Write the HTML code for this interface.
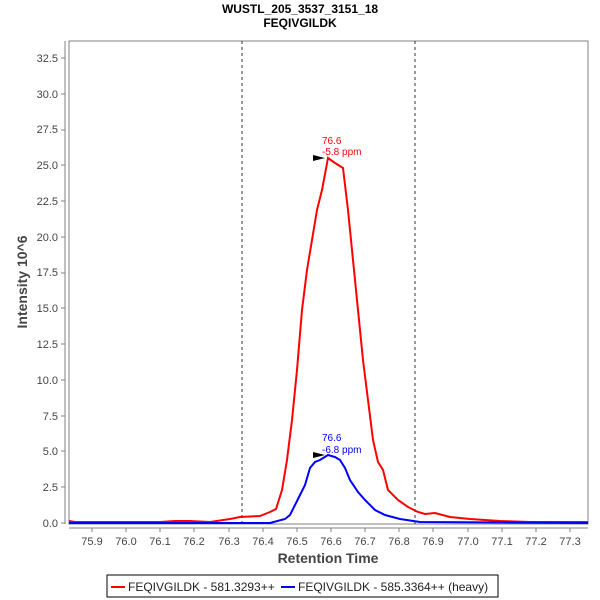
<!DOCTYPE html>
<html><head><style>body{margin:0;background:#fff}svg{display:block}text{font-family:"Liberation Sans",sans-serif}</style></head><body>
<svg width="600" height="600" xmlns="http://www.w3.org/2000/svg">
<text x="300" y="13" font-size="12" font-weight="bold" text-anchor="middle">WUSTL_205_3537_3151_18</text>
<text x="300" y="27" font-size="12" font-weight="bold" text-anchor="middle">FEQIVGILDK</text>
<rect x="69" y="41" width="519" height="483" fill="#fff" stroke="#808080"/>
<line x1="65" y1="41" x2="65" y2="524" stroke="#808080"/>
<line x1="69" y1="528" x2="588" y2="528" stroke="#808080"/>
<g font-size="11" fill="#444" text-anchor="end">
<text x="58" y="527">0.0</text><text x="58" y="491">2.5</text><text x="58" y="455">5.0</text><text x="58" y="420">7.5</text><text x="58" y="384">10.0</text><text x="58" y="348">12.5</text><text x="58" y="312">15.0</text><text x="58" y="276">17.5</text><text x="58" y="241">20.0</text><text x="58" y="205">22.5</text><text x="58" y="169">25.0</text><text x="58" y="133">27.5</text><text x="58" y="98">30.0</text><text x="58" y="62">32.5</text>
</g>
<g stroke="#808080"><line x1="61" y1="523" x2="65" y2="523"/><line x1="61" y1="487" x2="65" y2="487"/><line x1="61" y1="451" x2="65" y2="451"/><line x1="61" y1="416" x2="65" y2="416"/><line x1="61" y1="380" x2="65" y2="380"/><line x1="61" y1="344" x2="65" y2="344"/><line x1="61" y1="308" x2="65" y2="308"/><line x1="61" y1="273" x2="65" y2="273"/><line x1="61" y1="237" x2="65" y2="237"/><line x1="61" y1="201" x2="65" y2="201"/><line x1="61" y1="165" x2="65" y2="165"/><line x1="61" y1="130" x2="65" y2="130"/><line x1="61" y1="94" x2="65" y2="94"/><line x1="61" y1="58" x2="65" y2="58"/>
<line x1="92" y1="528" x2="92" y2="532"/><line x1="126" y1="528" x2="126" y2="532"/><line x1="160" y1="528" x2="160" y2="532"/><line x1="194" y1="528" x2="194" y2="532"/><line x1="229" y1="528" x2="229" y2="532"/><line x1="263" y1="528" x2="263" y2="532"/><line x1="297" y1="528" x2="297" y2="532"/><line x1="331" y1="528" x2="331" y2="532"/><line x1="365" y1="528" x2="365" y2="532"/><line x1="399" y1="528" x2="399" y2="532"/><line x1="433" y1="528" x2="433" y2="532"/><line x1="468" y1="528" x2="468" y2="532"/><line x1="502" y1="528" x2="502" y2="532"/><line x1="536" y1="528" x2="536" y2="532"/><line x1="570" y1="528" x2="570" y2="532"/></g>
<g font-size="11" fill="#444" text-anchor="middle">
<text x="92" y="545">75.9</text><text x="126" y="545">76.0</text><text x="160" y="545">76.1</text><text x="194" y="545">76.2</text><text x="229" y="545">76.3</text><text x="263" y="545">76.4</text><text x="297" y="545">76.5</text><text x="331" y="545">76.6</text><text x="365" y="545">76.7</text><text x="399" y="545">76.8</text><text x="433" y="545">76.9</text><text x="468" y="545">77.0</text><text x="502" y="545">77.1</text><text x="536" y="545">77.2</text><text x="570" y="545">77.3</text>
</g>
<text x="328" y="563" font-size="14" font-weight="bold" fill="#444" text-anchor="middle">Retention Time</text>
<text transform="translate(27,282) rotate(-90)" font-size="14" font-weight="bold" fill="#444" text-anchor="middle">Intensity 10^6</text>
<line x1="242" y1="41" x2="242" y2="524" stroke="#333" stroke-dasharray="3,3"/>
<line x1="415" y1="41" x2="415" y2="524" stroke="#333" stroke-dasharray="3,3"/>
<polyline fill="none" stroke="#f00" stroke-width="2" points="69,521 75,522 160,522 175,521 190,521 210,522 230,519 240,517 260,516 270,512 276,509 282,490 287,460 292,420 297,370 302,310 307,270 312,240 317,210 322,190 328,158 335,163 343,168 348,210 353,260 358,310 363,360 368,400 373,440 378,462 383,470 388,490 398,500 408,507 418,512 425,514 435,513 450,517 470,519 500,521 530,522 588,522"/>
<polyline fill="none" stroke="#00f" stroke-width="2" points="69,523 270,523 285,519 290,515 295,505 300,495 305,485 310,468 315,462 320,460 328,455 335,457 340,460 345,468 350,480 358,492 365,500 375,510 385,515 400,519 420,522 588,523"/>
<polygon points="313,155 325,158 313,161" fill="#000"/>
<polygon points="313,452 325,455 313,458" fill="#000"/>
<text x="322" y="144" font-size="10" fill="#f00">76.6</text><text x="322" y="155" font-size="10" fill="#f00">-5.8 ppm</text>
<text x="322" y="441" font-size="10" fill="#00f">76.6</text><text x="322" y="453" font-size="10" fill="#00f">-6.8 ppm</text>
<rect x="107" y="575" width="391" height="22" fill="#fff" stroke="#000"/>
<line x1="111" y1="587" x2="125" y2="587" stroke="#f00" stroke-width="2"/>
<text x="128" y="591" font-size="12" fill="#222">FEQIVGILDK - 581.3293++</text>
<line x1="281" y1="587" x2="295" y2="587" stroke="#00f" stroke-width="2"/>
<text x="298" y="591" font-size="12" fill="#222">FEQIVGILDK - 585.3364++ (heavy)</text>
</svg>
</body></html>
